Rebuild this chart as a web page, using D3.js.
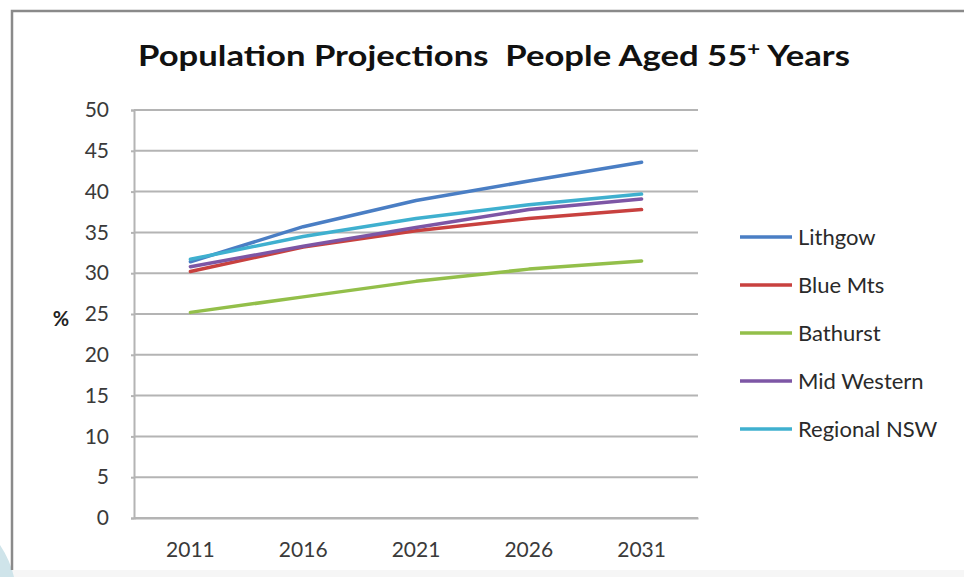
<!DOCTYPE html>
<html>
<head>
<meta charset="utf-8">
<script src="https://cdn.jsdelivr.net/npm/d3@7"></script>
<style>
  body { margin: 0; background: #fff; }
  svg { display: block; font-family: Lato, "Open Sans", sans-serif; }
</style>
</head>
<body>
<svg id="chart" width="964" height="577"></svg>
<script>
// data
const years = ["2011", "2016", "2021", "2026", "2031"];
const seriesNames = ["Lithgow", "Blue Mts", "Bathurst", "Mid Western", "Regional NSW"];
const lithgow = [31.4, 35.7, 38.9, 41.3, 43.6];
const blueMts = [30.2, 33.2, 35.2, 36.7, 37.8];
const bathurst = [25.2, 27.1, 29.0, 30.5, 31.5];
const midWestern = [30.8, 33.3, 35.6, 37.8, 39.1];
const regionalNsw = [31.7, 34.5, 36.7, 38.4, 39.7];
const yTicks = [0, 5, 10, 15, 20, 25, 30, 35, 40, 45, 50];

const colors = ["#4A7EC4", "#C8413F", "#93BF4A", "#7D56A5", "#3FB0CF"];
const allSeries = [lithgow, blueMts, bathurst, midWestern, regionalNsw];

const svg = d3.select("#chart");

// slide background bits
svg.append("rect")
    .attr("x", 0).attr("y", 570)
    .attr("width", 964).attr("height", 7)
    .attr("fill", "#f6f6f6");
svg.append("path")
    .attr("d", "M0,545 Q10,560 14,577 L0,577 Z")
    .attr("fill", "#cfe4ea");
svg.append("rect")
    .attr("x", 12).attr("y", 11)
    .attr("width", 952).attr("height", 559)
    .attr("fill", "#fff");
svg.append("path")
    .attr("d", "M12,570 L12,11 L964,11")
    .attr("fill", "none")
    .attr("stroke", "#8a8a8a")
    .attr("stroke-width", 2.5);

const margin = { left: 134, top: 110, right: 698, bottom: 518 };

const x = d3.scaleBand()
    .domain(years)
    .range([margin.left, margin.right]);

const y = d3.scaleLinear()
    .domain([0, 50])
    .range([margin.bottom, margin.top]);

// title
svg.append("text")
    .attr("x", 494).attr("y", 66)
    .attr("text-anchor", "middle")
    .attr("font-size", 28)
    .attr("font-weight", "bold")
    .attr("fill", "#111")
    .attr("textLength", 712)
    .attr("lengthAdjust", "spacingAndGlyphs")
    .html('Population Projections&#160;&#160;People Aged 55<tspan font-size="18" dy="-10">+</tspan><tspan dy="10"> Years</tspan>');

// gridlines
svg.append("g")
    .selectAll("line")
    .data(yTicks)
    .enter().append("line")
    .attr("x1", margin.left).attr("x2", margin.right)
    .attr("y1", d => y(d)).attr("y2", d => y(d))
    .attr("stroke", "#b4b4b4")
    .attr("stroke-width", 2);

// y axis
const yAxis = svg.append("g")
    .attr("transform", `translate(${margin.left},0)`)
    .call(d3.axisLeft(y).tickValues(yTicks).tickSize(3).tickPadding(22));
yAxis.select(".domain").attr("stroke", "#b4b4b4").attr("stroke-width", 2);
yAxis.selectAll(".tick line").attr("stroke", "#b4b4b4").attr("stroke-width", 2);
yAxis.selectAll("text")
    .attr("font-size", 21)
    .attr("fill", "#3a3a3a")
    .attr("font-family", "Lato, sans-serif");

// x axis
const xAxis = svg.append("g")
    .attr("transform", `translate(0,${margin.bottom})`)
    .call(d3.axisBottom(x).tickSize(0).tickPadding(24));
xAxis.select(".domain").attr("stroke", "#b4b4b4").attr("stroke-width", 2);
xAxis.selectAll("text")
    .attr("font-size", 21)
    .attr("fill", "#3a3a3a")
    .attr("font-family", "Lato, sans-serif");

// % label
svg.append("text")
    .attr("x", 61).attr("y", 326)
    .attr("text-anchor", "middle")
    .attr("font-size", 20)
    .attr("font-weight", "bold")
    .attr("fill", "#222")
    .text("%");

// lines
const line = d3.line()
    .x((d, i) => x(years[i]) + x.bandwidth() / 2)
    .y(d => y(d));

svg.append("g")
    .selectAll("path")
    .data(allSeries)
    .enter().append("path")
    .attr("d", line)
    .attr("fill", "none")
    .attr("stroke", (d, i) => colors[i])
    .attr("stroke-width", 3.5)
    .attr("stroke-linecap", "round")
    .attr("stroke-linejoin", "round");

// legend
const legend = svg.append("g")
    .selectAll("g")
    .data(seriesNames)
    .enter().append("g")
    .attr("transform", (d, i) => `translate(740,${237 + i * 48})`);

legend.append("line")
    .attr("x1", 0).attr("x2", 52)
    .attr("stroke", (d, i) => colors[i])
    .attr("stroke-width", 3.5);

legend.append("text")
    .attr("x", 58).attr("y", 8)
    .attr("font-size", 22)
    .attr("fill", "#2a2a2a")
    .text(d => d);
</script>
</body>
</html>
